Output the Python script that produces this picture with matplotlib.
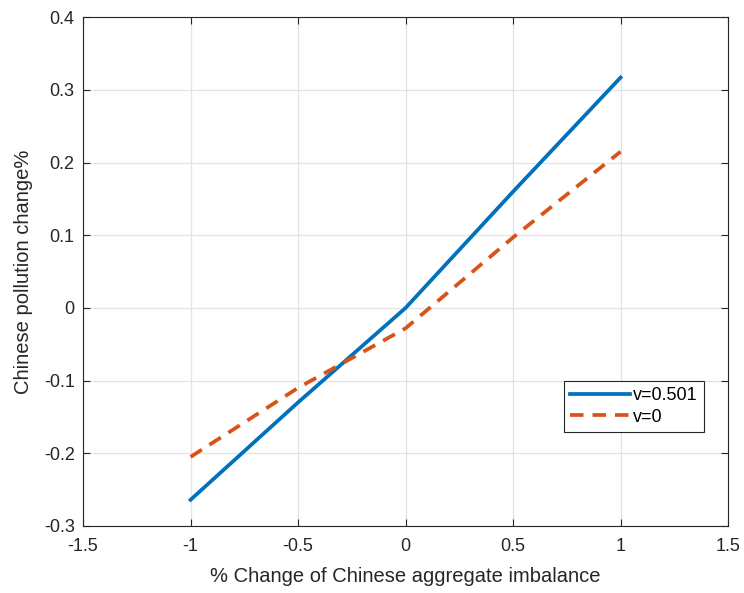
import matplotlib.pyplot as plt

# Data
x = [-1, -0.5, 0, 0.5, 1]
pollution_v0501 = [-0.264, -0.130, 0.0, 0.160, 0.317]
pollution_v0 = [-0.205, -0.110, -0.028, 0.097, 0.215]

plt.rcParams['font.family'] = ['Liberation Sans', 'DejaVu Sans']

fig = plt.figure(figsize=(7.44, 5.93), dpi=100)
ax = fig.add_axes([0.1116, 0.113, 0.867, 0.858])

ax.plot(x, pollution_v0501, color='#0072BD', lw=2.7, label='v=0.501')
ax.plot(x, pollution_v0, color='#D95319', lw=2.7, ls=(0, (3.6, 2.4)), label='v=0')

ax.set_xlim(-1.5, 1.5)
ax.set_ylim(-0.3, 0.4)
ax.set_xticks([-1.5, -1, -0.5, 0, 0.5, 1, 1.5])
ax.set_xticklabels(['-1.5', '-1', '-0.5', '0', '0.5', '1', '1.5'])
ax.set_yticks([-0.3, -0.2, -0.1, 0, 0.1, 0.2, 0.3, 0.4])
ax.set_yticklabels(['-0.3', '-0.2', '-0.1', '0', '0.1', '0.2', '0.3', '0.4'])
ax.tick_params(direction='in', labelsize=13, length=5, colors='#262626', top=True, right=True)
ax.tick_params(axis='x', pad=9)
ax.tick_params(axis='y', pad=6)
ax.grid(True, color='#e3e3e3', lw=0.9)
ax.set_axisbelow(True)
for s in ax.spines.values():
    s.set_color('#262626')
    s.set_linewidth(0.8)

ax.set_xlabel('% Change of Chinese aggregate imbalance', fontsize=14.5, color='#262626', labelpad=8)
ax.set_ylabel('Chinese pollution change%', fontsize=14.5, color='#262626', labelpad=8)

leg = ax.legend(loc='lower right', bbox_to_anchor=(0.962, 0.185), fontsize=13,
                fancybox=False, framealpha=1, edgecolor='#262626',
                handlelength=3.3, borderpad=0.35, labelspacing=0.25, handletextpad=0.15,
                borderaxespad=0)
leg.get_frame().set_linewidth(0.8)

fig.savefig('out.png', dpi=100)
